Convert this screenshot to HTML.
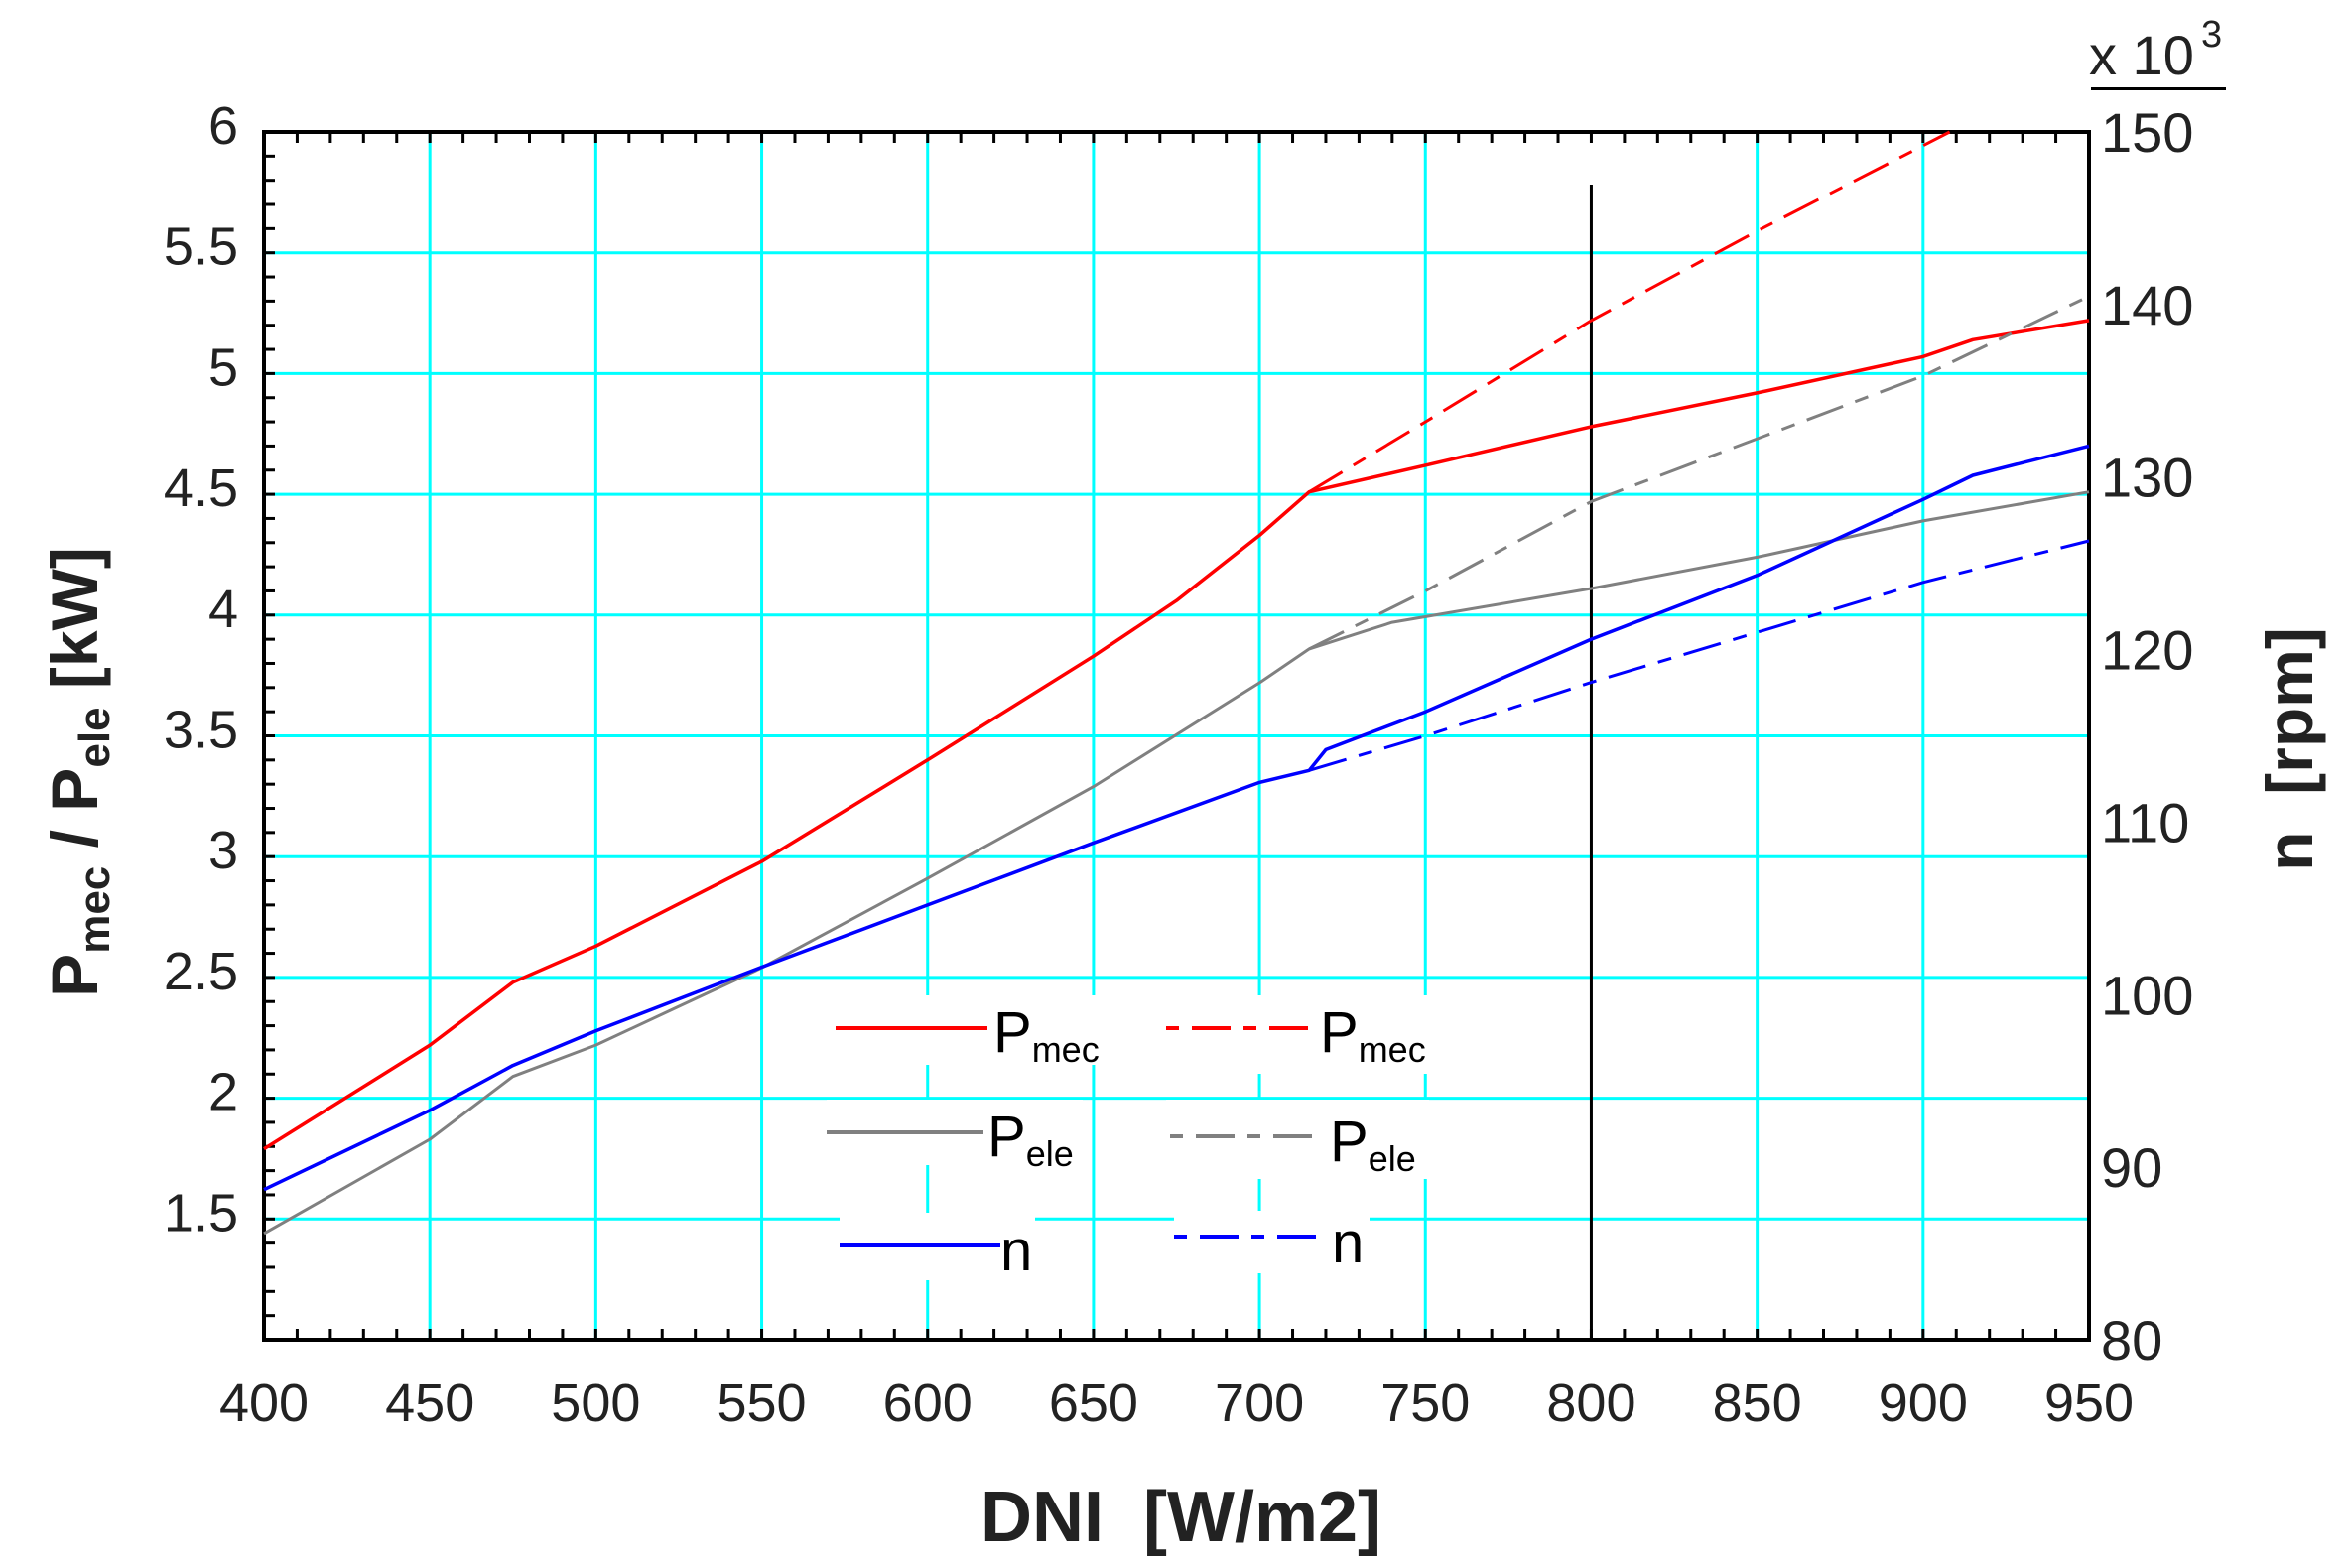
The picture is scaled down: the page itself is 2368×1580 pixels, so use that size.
<!DOCTYPE html>
<html><head><meta charset="utf-8"><style>
html,body{margin:0;padding:0;background:#fff;}
svg{display:block;font-family:"Liberation Sans",Arial,sans-serif;}
</style></head><body>
<svg id="c" width="2368" height="1580" viewBox="0 0 2368 1580" xmlns="http://www.w3.org/2000/svg"></svg>
<script>
const L=266,R=2105,T=133,B=1350;
const X=d=>L+(d-400)*(R-L)/550;
const YP=p=>T+(6-p)*(B-T)/5;
const YN=n=>T+(150-n)*(B-T)/70;
let s='';
for(let d=450;d<=900;d+=50){ if(d===800)continue; s+=`<line x1="${X(d)}" y1="${T}" x2="${X(d)}" y2="${B}" stroke="#00ffff" stroke-width="3"/>`; }
for(let p=1.5;p<=5.51;p+=0.5){ s+=`<line x1="${L}" y1="${YP(p)}" x2="${R}" y2="${YP(p)}" stroke="#00ffff" stroke-width="3"/>`; }
s+=`<line x1="${X(800)}" y1="186" x2="${X(800)}" y2="${B}" stroke="#000" stroke-width="3"/>`;
[[835,1003,1120,1073],[1170,1003,1450,1082],[833,1108,1091,1174],[1175,1108,1440,1188],[846,1222,1043,1290],[1183,1220,1380,1283]].forEach(b=>{
 s+=`<rect x="${b[0]}" y="${b[1]}" width="${b[2]-b[0]}" height="${b[3]-b[1]}" fill="#fff"/>`;});
for(let d=400;d<=950;d+=10){ s+=`<line x1="${X(d)}" y1="${T}" x2="${X(d)}" y2="${T+11}" stroke="#000" stroke-width="3"/><line x1="${X(d)}" y1="${B}" x2="${X(d)}" y2="${B-11}" stroke="#000" stroke-width="3"/>`; }
for(let i=10;i<=60;i++){ const p=i/10; s+=`<line x1="${L}" y1="${YP(p)}" x2="${L+11}" y2="${YP(p)}" stroke="#000" stroke-width="3"/>`; }
s+=`<rect x="${L}" y="${T}" width="${R-L}" height="${B-T}" fill="none" stroke="#000" stroke-width="4"/>`;
const dash='39 13 14 13';
function line(pts,yf,col,w,dashed){
 const d=pts.map((q,i)=>(i?'L':'M')+X(q[0]).toFixed(1)+' '+yf(q[1]).toFixed(1)).join(' ');
 s+=`<path d="${d}" fill="none" stroke="${col}" stroke-width="${w}" ${dashed?`stroke-dasharray="${dash}"`:''} stroke-linejoin="round"/>`;
}
line([[400,1.79],[450,2.22],[475,2.48],[500,2.63],[550,2.98],[600,3.40],[650,3.83],[675,4.06],[700,4.33],[715,4.51],[750,4.62],[800,4.78],[850,4.92],[900,5.07],[915,5.14],[950,5.22]],YP,'#ff0000',3.5,false);
line([[715,4.51],[750,4.80],[800,5.22],[850,5.59],[908,6.0]],YP,'#ff0000',3,true);
line([[400,1.44],[450,1.83],[475,2.09],[500,2.22],[550,2.54],[600,2.91],[650,3.29],[700,3.72],[715,3.86],[740,3.97],[800,4.11],[850,4.24],[900,4.39],[950,4.51]],YP,'#808080',3,false);
line([[715,3.86],[750,4.10],[800,4.47],[900,4.99],[950,5.32]],YP,'#808080',3,true);
line([[400,88.7],[450,93.3],[475,95.9],[500,97.9],[550,101.6],[600,105.2],[650,108.8],[700,112.3],[715,113.0],[720,114.2],[750,116.4],[800,120.6],[850,124.3],[900,128.7],[915,130.1],[950,131.8]],YN,'#0000ff',3.5,false);
line([[715,113.0],[750,115.0],[800,118.1],[900,123.9],[950,126.3]],YN,'#0000ff',3,true);
function leg(x1,x2,y,col,dashed,tx,ty,main,sub){
 s+=`<line x1="${x1}" y1="${y}" x2="${x2}" y2="${y}" stroke="${col}" stroke-width="4" ${dashed?`stroke-dasharray="13 13 39 13"`:''}/>`;
 s+=`<text x="${tx}" y="${ty}" font-size="58" fill="#000">${main}${sub?`<tspan font-size="36" dy="10">${sub}</tspan>`:''}</text>`;
}
leg(842,995,1036,'#ff0000',false,1001,1060,'P','mec');
leg(1175,1323,1036,'#ff0000',true,1330,1060,'P','mec');
leg(833,991,1141,'#808080',false,995,1165,'P','ele');
leg(1179,1332,1145,'#808080',true,1340,1170,'P','ele');
leg(846,1008,1255,'#0000ff',false,1008,1280,'n','');
leg(1183,1337,1246,'#0000ff',true,1342,1272,'n','');
[6,5.5,5,4.5,4,3.5,3,2.5,2,1.5].forEach(p=>{ s+=`<text x="240" y="${YP(p)+12}" font-size="54" text-anchor="end" fill="#222">${p}</text>`; });
for(let d=400;d<=950;d+=50){ s+=`<text x="${X(d)}" y="1447" font-size="54" text-anchor="middle" fill="#222" transform="translate(0,-15)">${d}</text>`; }
for(let n=80;n<=150;n+=10){ s+=`<text x="2117" y="${YN(n)+20}" font-size="56" fill="#222">${n}</text>`; }
s+=`<text x="2105" y="75" font-size="56" fill="#222">x 10</text><text x="2218" y="47" font-size="38" fill="#222">3</text>`;
s+=`<rect x="2107" y="88" width="136" height="3" fill="#000"/>`;
s+=`<text x="1190" y="1553" font-size="72" font-weight="bold" text-anchor="middle" fill="#222" xml:space="preserve">DNI  [W/m2]</text>`;
s+=`<text transform="translate(98,778) rotate(-90)" font-size="66" font-weight="bold" text-anchor="middle" fill="#222">P<tspan font-size="44" dy="12">mec</tspan><tspan dy="-12"> / P</tspan><tspan font-size="44" dy="12">ele</tspan><tspan dy="-12"> [kW]</tspan></text>`;
s+=`<text transform="translate(2330,755) rotate(-90)" font-size="66" font-weight="bold" text-anchor="middle" fill="#222" xml:space="preserve">n  [rpm]</text>`;
document.getElementById('c').innerHTML=s;
</script>
</body></html>
